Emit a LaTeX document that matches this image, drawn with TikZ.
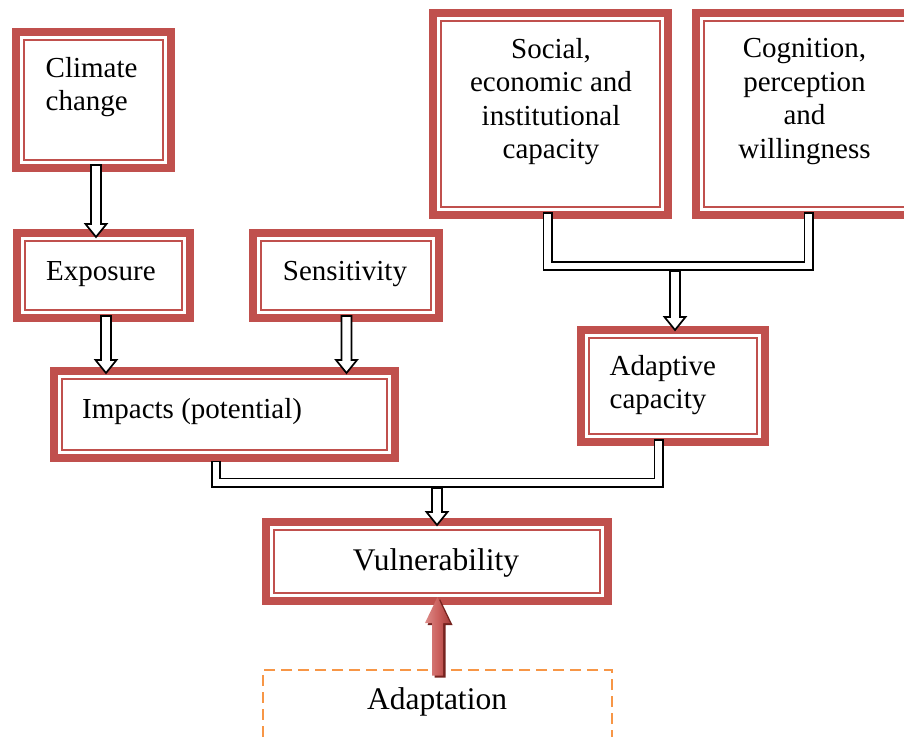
\documentclass[tikz,border=0pt]{standalone}
\usepackage{fontspec}
\setmainfont{Liberation Serif}
\usetikzlibrary{calc, shadows}
\definecolor{frame}{HTML}{C0504D}
\definecolor{orange}{HTML}{F79646}
\definecolor{pinkred}{HTML}{DC8C89}
\definecolor{midred}{HTML}{CC625F}
\definecolor{deepred}{HTML}{A83E3B}
\definecolor{shadowred}{HTML}{76231F}
\tikzset{
  half shaft/.store in=\shaftw, half head/.store in=\headw, head len/.store in=\headl,
  half shaft=5pt, half head=10.5pt, head len=13pt,
  box/.style={rectangle, draw=frame, line width=8pt, fill=white, inner sep=0pt, outer sep=0pt},
  rim/.style={draw=frame, line width=2.4pt},
  dashbox/.style={rectangle, draw=orange, line width=2.8pt, dash pattern=on 11pt off 6pt, inner sep=0pt},
  lbl/.style={inner sep=0pt, font=\fontsize{29}{33.5}\selectfont},
  biglbl/.style={inner sep=0pt, font=\fontsize{31.5}{36}\selectfont},
  blockarrow/.style={to path={let \p1=(\tikztostart), \p2=(\tikztotarget), \n1={sign(\y1-\y2)} in
    (\x1-\shaftw,\y1) -- (\x1-\shaftw,{\y2+\n1*\headl}) -- (\x1-\headw,{\y2+\n1*\headl}) -- (\x1,\y2)
    -- (\x1+\headw,{\y2+\n1*\headl}) -- (\x1+\shaftw,{\y2+\n1*\headl}) -- (\x1+\shaftw,\y1) -- cycle}},
  hollow/.style={blockarrow, draw=black, fill=white, line width=1.7pt, line join=miter},
  pipe/.style={draw=black, line width=1.7pt, double=white, double distance=6.6pt, line cap=rect},
  push/.style={blockarrow, half shaft=5.5pt, half head=12.5pt, head len=26pt, left color=pinkred, right color=deepred, middle color=midred,
    drop shadow={shadow xshift=2.5pt, shadow yshift=-2pt, fill=shadowred, opacity=1}},
}
\begin{document}
\begin{tikzpicture}[x=1pt, y=-1pt]
  \useasboundingbox (0,0) rectangle (904,736);
  \clip (0,0) rectangle (904,736);
  \node[box, minimum width=155, minimum height=136] (climate) at (93.5,100) {};
  \node[box, minimum width=173, minimum height=85] (exposure) at (103.5,275.5) {};
  \node[box, minimum width=186, minimum height=85] (sensitivity) at (346,275.5) {};
  \node[box, minimum width=341, minimum height=87] (impacts) at (224.5,414.5) {};
  \node[box, minimum width=235, minimum height=202] (social) at (550.5,114) {};
  \node[box, minimum width=235, minimum height=202] (cognition) at (813.5,114) {};
  \node[box, minimum width=184, minimum height=112] (adaptive) at (673,386) {};
  \node[box, minimum width=342, minimum height=79] (vulner) at (437,561.5) {};
  \node[dashbox, minimum width=349, minimum height=130] (adaptation) at (437.5,735) {};
  \foreach \b in {climate, exposure, sensitivity, impacts, social, cognition, adaptive, vulner}
    \draw[rim] ([shift={(8.25,8.25)}]\b.north west) rectangle ([shift={(-8.25,-8.25)}]\b.south east);
  \coordinate (capjoin) at (675,266);
  \coordinate (vuljoin) at (437,482.5);
  \draw[pipe] ([xshift=-3pt,yshift=-2pt]social.south) |- (capjoin) -| ([xshift=-5pt,yshift=-2pt]cognition.south);
  \draw[pipe] ([xshift=-8.5pt,yshift=-7.5pt]impacts.south) |- (vuljoin) -| ([xshift=-14.5pt,yshift=-2pt]adaptive.south);
  \draw[hollow] ([xshift=2.5pt,yshift=3pt]climate.south) to ([yshift=-4pt]exposure.north);
  \draw[hollow] ([xshift=2.5pt,yshift=2pt]exposure.south) to ([yshift=-2pt]impacts.north);
  \draw[hollow] ([xshift=0.5pt,yshift=2pt]sensitivity.south) to ([yshift=-2pt]impacts.north);
  \draw[hollow] ([yshift=-5pt]capjoin) to (adaptive.north);
  \draw[hollow] ([yshift=-5.5pt]vuljoin) to ([yshift=-3pt]vulner.north);
  \path[push] ([yshift=-7pt]adaptation.north) to ([yshift=4pt]vulner.south);
  \node[lbl, align=left, anchor=west] (climate-t) at (45.5,87) {Climate\\change};
  \node[lbl, anchor=base west] (exposure-t) at (46,280) {Exposure};
  \node[lbl, anchor=base] (sensitivity-t) at (345,280) {Sensitivity};
  \node[lbl, anchor=base west] (impacts-t) at (82,418) {Impacts (potential)};
  \node[lbl, align=center] (social-t) at (551,101.5) {Social,\\economic and\\institutional\\capacity};
  \node[lbl, align=center] (cognition-t) at (804.5,101.5) {Cognition,\\perception\\and\\willingness};
  \node[lbl, align=left, anchor=west] (adaptive-t) at (609.5,385) {Adaptive\\capacity};
  \node[biglbl, anchor=base] (vulner-t) at (436,570) {Vulnerability};
  \node[biglbl, anchor=base] (adaptation-t) at (437,709) {Adaptation};
\end{tikzpicture}
\end{document}
